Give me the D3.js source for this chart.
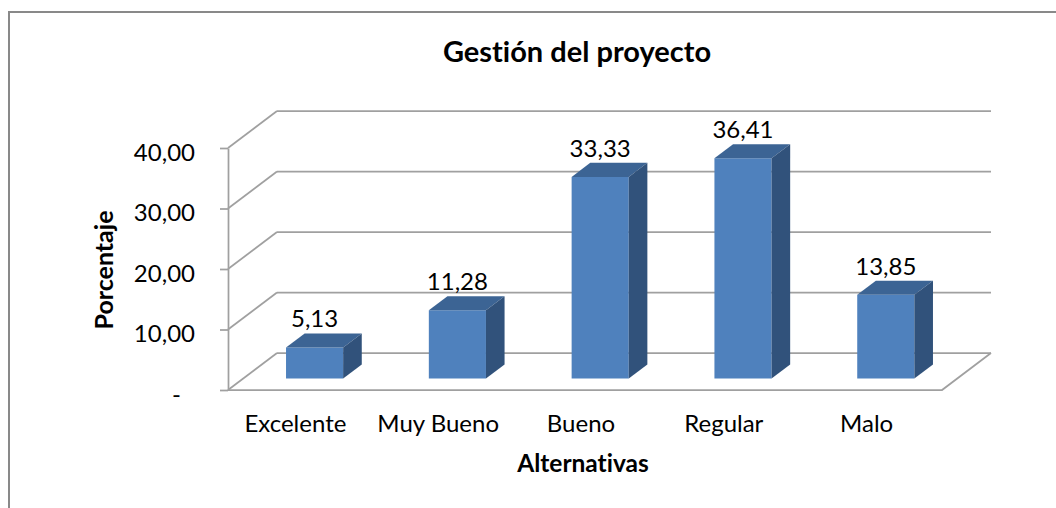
<!DOCTYPE html>
<html>
<head>
<meta charset="utf-8">
<script src="https://cdn.jsdelivr.net/npm/d3@7"></script>
<style>
  body { margin: 0; background: #fff; }
  text { font-family: Lato, "Open Sans", sans-serif; fill: #000; font-variant-ligatures: none; }
</style>
</head>
<body>
<div id="chart"></div>
<script>
const categories = ["Excelente", "Muy Bueno", "Bueno", "Regular", "Malo"];
const values = [5.13, 11.28, 33.33, 36.41, 13.85];
const yTicks = [0, 10, 20, 30, 40];

const width = 1056, height = 508;
const depth = { dx: 49, dy: -37 };   // floor depth of the 3d box
const barFront = 0.31, barBack = 0.69;

const svg = d3.select("#chart").append("svg")
    .attr("width", width)
    .attr("height", height);

// outer chart frame (runs off the right / bottom of the picture)
svg.append("rect")
    .attr("x", 9).attr("y", 12)
    .attr("width", 1100).attr("height", 600)
    .attr("fill", "none")
    .attr("stroke", "#898989")
    .attr("stroke-width", 2);

const x = d3.scaleBand().domain(categories).range([228, 942]);
const y = d3.scaleLinear().domain([0, 40]).range([390, 148]);

const loc = d3.formatLocale({ decimal: ",", thousands: ".", grouping: [3], currency: ["", ""] });
const fmt = loc.format(",.2f");

function p(px, py, f) {
    return [px + f * depth.dx, py + f * depth.dy];
}

const grid = svg.append("g")
    .attr("stroke", "#a0a0a0")
    .attr("stroke-width", 1.75)
    .attr("fill", "none");

const x0 = x.range()[0], x1 = x.range()[1];

// back wall gridlines
grid.selectAll(".back").data(yTicks).enter()
    .append("line")
        .attr("x1", d => p(x0, y(d), 1)[0])
        .attr("y1", d => p(x0, y(d), 1)[1])
        .attr("x2", d => p(x1, y(d), 1)[0])
        .attr("y2", d => p(x1, y(d), 1)[1]);

// side wall gridlines
grid.selectAll(".side").data(yTicks).enter()
    .append("line")
        .attr("x1", x0).attr("y1", d => y(d))
        .attr("x2", d => p(x0, y(d), 1)[0])
        .attr("y2", d => p(x0, y(d), 1)[1]);

// floor front and right edges
grid.append("polyline")
    .attr("points", [[x0, y(0)], [x1, y(0)], p(x1, y(0), 1)].join(" "));

// front value axis
const yAxis = d3.axisLeft(y)
    .tickValues(yTicks)
    .tickSize(8)
    .tickSizeOuter(0)
    .tickPadding(25)
    .tickFormat(d => d === 0 ? "-" : fmt(d));

const ag = svg.append("g")
    .attr("transform", `translate(${x0},0)`)
    .call(yAxis);
ag.selectAll("path, line").attr("stroke", "#a0a0a0").attr("stroke-width", 1.75);
ag.selectAll("text")
    .attr("font-family", "Lato, 'Open Sans', sans-serif")
    .attr("font-size", 24)
    .attr("fill", "#000")
    .attr("dy", "0.52em")
    .attr("dx", d => d === 0 ? -14 : 0);

// bars
const bw = x.bandwidth() * 0.4;
const bars = svg.selectAll(".bar").data(values).enter()
    .append("g").classed("bar", true);

function bx(i) { return x(categories[i]) + (x.bandwidth() - bw) / 2; }

bars.append("polygon")
    .attr("fill", "#4f81bd")
    .attr("points", (d, i) => [
        p(bx(i), y(d), barFront), p(bx(i) + bw, y(d), barFront),
        p(bx(i) + bw, y(0), barFront), p(bx(i), y(0), barFront)].join(" "));

bars.append("polygon")
    .attr("fill", "#3c6494")
    .attr("points", (d, i) => [
        p(bx(i), y(d), barFront), p(bx(i) + bw, y(d), barFront),
        p(bx(i) + bw, y(d), barBack), p(bx(i), y(d), barBack)].join(" "));

bars.append("polygon")
    .attr("fill", "#31527b")
    .attr("points", (d, i) => [
        p(bx(i) + bw, y(d), barFront), p(bx(i) + bw, y(d), barBack),
        p(bx(i) + bw, y(0), barBack), p(bx(i) + bw, y(0), barFront)].join(" "));

// value labels
bars.append("text")
    .attr("x", (d, i) => p(bx(i) + bw / 2, y(d), barFront)[0])
    .attr("y", (d, i) => p(bx(i), y(d), barBack)[1] - 6)
    .attr("text-anchor", "middle")
    .attr("font-size", 24)
    .text(d => fmt(d));

// category labels
svg.selectAll(".cat").data(categories).enter()
    .append("text")
        .attr("x", d => x(d) + x.bandwidth() / 2 - 4)
        .attr("y", 432)
        .attr("text-anchor", "middle")
        .attr("font-size", 24)
        .text(d => d);

// titles
svg.append("text")
    .attr("x", 577).attr("y", 62)
    .attr("text-anchor", "middle")
    .attr("font-size", 29)
    .attr("font-weight", "bold")
    .text("Gestión del proyecto");

svg.append("text")
    .attr("x", 583).attr("y", 472)
    .attr("text-anchor", "middle")
    .attr("font-size", 24.5)
    .attr("font-weight", "bold")
    .text("Alternativas");

svg.append("text")
    .attr("transform", "translate(113,270) rotate(-90)")
    .attr("text-anchor", "middle")
    .attr("font-size", 25)
    .attr("font-weight", "bold")
    .text("Porcentaje");
</script>
</body>
</html>
